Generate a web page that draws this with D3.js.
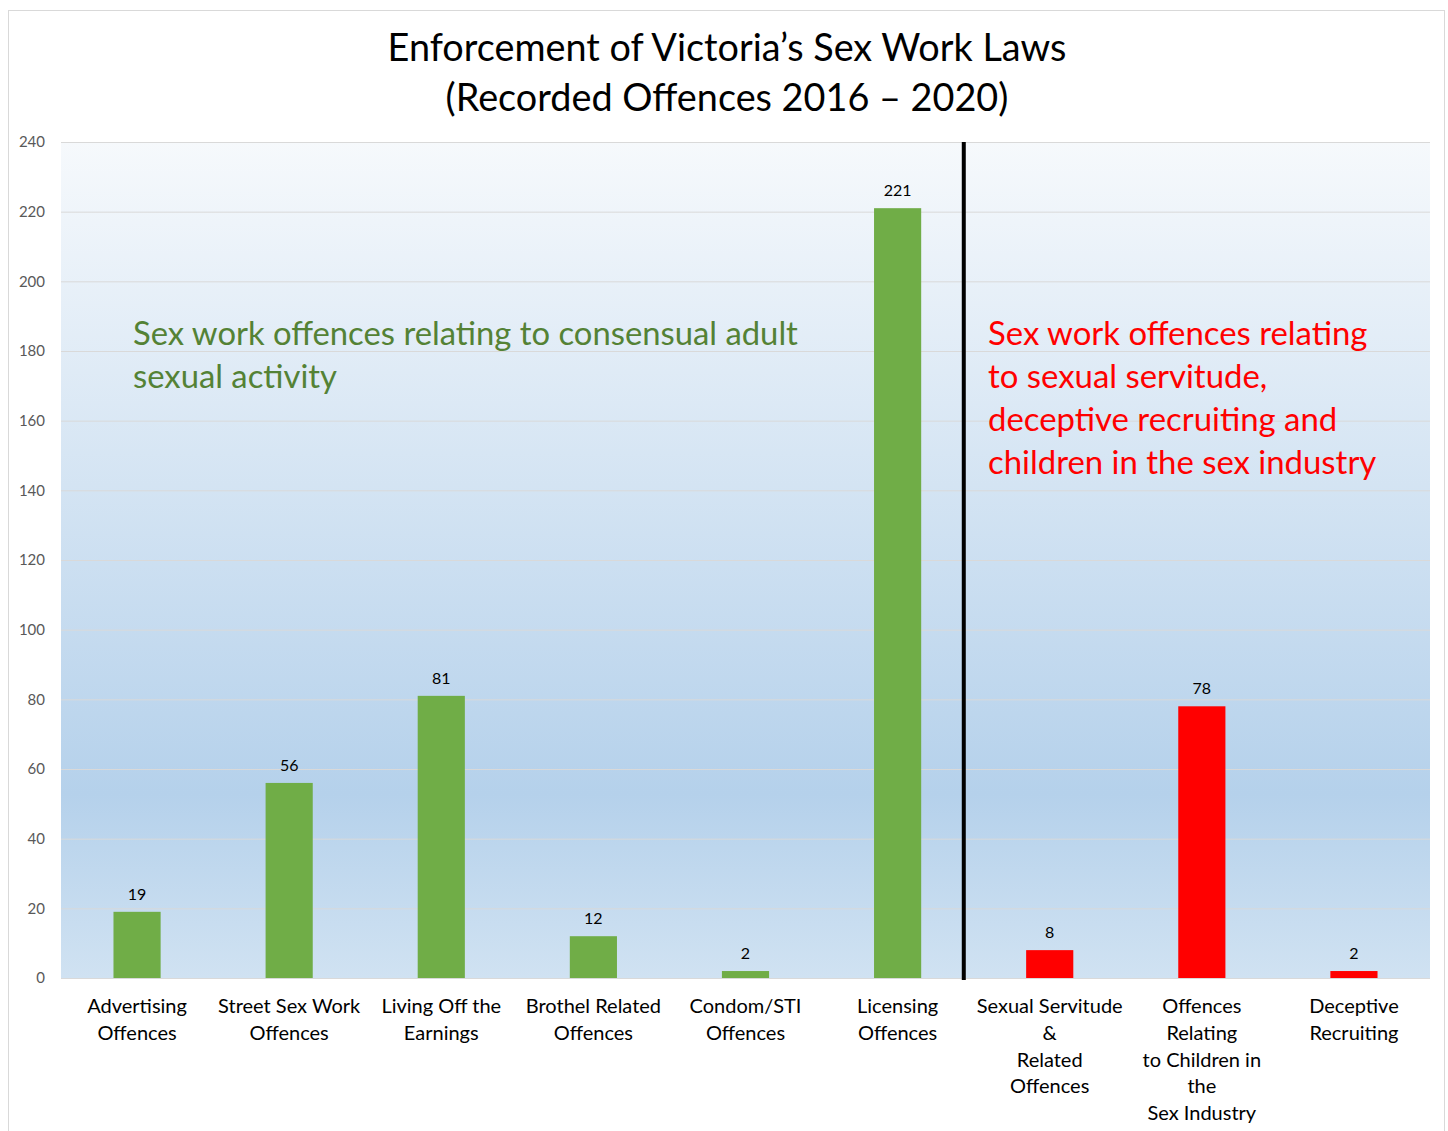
<!DOCTYPE html>
<html>
<head>
<meta charset="utf-8">
<script src="https://cdn.jsdelivr.net/npm/d3@7"></script>
<style>
  body { margin: 0; background: #fff; }
  text { font-family: Lato, "Open Sans", sans-serif; }
</style>
</head>
<body>
<div id="chart"></div>
<script>
// categories and values
const categories = [
    ["Advertising", "Offences"],
    ["Street Sex Work", "Offences"],
    ["Living Off the", "Earnings"],
    ["Brothel Related", "Offences"],
    ["Condom/STI", "Offences"],
    ["Licensing", "Offences"],
    ["Sexual Servitude", "&", "Related", "Offences"],
    ["Offences", "Relating", "to Children in", "the", "Sex Industry"]
    , ["Deceptive", "Recruiting"]
]
const values = [19, 56, 81, 12, 2, 221, 8, 78, 2]
const groups = ["consensual", "consensual", "consensual", "consensual", "consensual", "consensual", "servitude", "servitude", "servitude"]
const yTicks = [0, 20, 40, 60, 80, 100, 120, 140, 160, 180, 200, 220, 240]
const titleLines = ["Enforcement of Victoria\u2019s Sex Work Laws", "(Recorded Offences 2016 \u2013 2020)"]
const greenNote = ["Sex work offences relating to consensual adult", "sexual activity"]
const redNote = ["Sex work offences relating", "to sexual servitude,", "deceptive recruiting and", "children in the sex industry"]

const drawChart = () => {
    var width = 1448,
        height = 1131;
    const margin = ({ top: 142, right: 18, bottom: 153, left: 61 })

    var svg = d3.select("#chart").append("svg")
        .attr("width", width)
        .attr("height", height)

    // outer frame
    svg.append("rect")
        .attr("x", 8.5).attr("y", 10.5)
        .attr("width", 1436).attr("height", 1130)
        .attr("fill", "#fff")
        .attr("stroke", "#d9d9d9")

    const defs = svg.append("defs")
    const grad = defs.append("linearGradient")
        .attr("id", "bg").attr("x1", 0).attr("y1", 0).attr("x2", 0).attr("y2", 1)
    grad.append("stop").attr("offset", "0%").attr("stop-color", "#f6f9fc")
    grad.append("stop").attr("offset", "78%").attr("stop-color", "#b5d1eb")
    grad.append("stop").attr("offset", "100%").attr("stop-color", "#d0e2f2")

    const keys = categories.map(c => c.join(" "))

    const x = d3.scaleBand()
        .domain(keys)
        .range([margin.left, width - margin.right])
        .paddingInner(0.69)
        .paddingOuter(0.345)

    const y = d3.scaleLinear()
        .domain([0, 240])
        .range([height - margin.bottom, margin.top])

    svg.append("rect")
        .attr("x", margin.left)
        .attr("y", y(240))
        .attr("width", width - margin.right - margin.left)
        .attr("height", y(0) - y(240))
        .attr("fill", "url(#bg)")

    // gridlines
    svg.append("g")
        .attr("transform", `translate(${margin.left},0)`)
        .call(d3.axisLeft(y).tickValues(yTicks).tickSize(-(width - margin.right - margin.left)).tickFormat(""))
        .call(g => g.select(".domain").remove())
        .call(g => g.selectAll(".tick line").attr("stroke", "#d9d9d9").attr("stroke-width", 1))

    // y labels
    svg.append("g")
        .attr("transform", `translate(${margin.left - 16},0)`)
        .call(d3.axisLeft(y).tickValues(yTicks).tickSize(0).tickPadding(0))
        .call(g => g.select(".domain").remove())
        .call(g => g.selectAll(".tick text")
            .attr("fill", "#595959")
            .attr("font-size", "15px")
            .style("font-family", "Lato, sans-serif"))

    // bars
    svg.append("g")
        .selectAll("rect")
        .data(values)
        .join("rect")
        .attr("x", (d, i) => x(keys[i]))
        .attr("y", d => y(d))
        .attr("width", x.bandwidth())
        .attr("height", d => y(0) - y(d))
        .attr("fill", (d, i) => groups[i] == "consensual" ? "#70ad47" : "#ff0000")

    // value labels
    svg.append("g")
        .selectAll("text")
        .data(values)
        .join("text")
        .attr("x", (d, i) => x(keys[i]) + x.bandwidth() / 2)
        .attr("y", d => y(d) - 12)
        .attr("text-anchor", "middle")
        .attr("font-size", "16px")
        .attr("fill", "#000")
        .text(d => d)

    // baseline
    svg.append("line")
        .attr("x1", margin.left).attr("x2", width - margin.right)
        .attr("y1", y(0) + 0.5).attr("y2", y(0) + 0.5)
        .attr("stroke", "#d9d9d9")

    // category labels
    const step = x.step()
    svg.append("g")
        .selectAll("text")
        .data(categories)
        .join("text")
        .attr("x", (d, i) => x(keys[i]) + x.bandwidth() / 2)
        .attr("y", y(0) + 35)
        .attr("text-anchor", "middle")
        .attr("font-size", "20px")
        .attr("fill", "#000")
        .selectAll("tspan")
        .data(d => d)
        .join("tspan")
        .attr("x", function () { return d3.select(this.parentNode).attr("x") })
        .attr("dy", (d, i) => i == 0 ? 0 : 26.8)
        .text(d => d)

    // divider between groups
    const divX = x(keys[5]) + x.bandwidth() / 2 + step * 0.435
    svg.append("line")
        .attr("x1", divX).attr("x2", divX)
        .attr("y1", y(240)).attr("y2", y(0) + 2)
        .attr("stroke", "#000")
        .attr("stroke-width", 4)

    // title
    svg.append("text")
        .attr("x", 727)
        .attr("y", 61)
        .attr("text-anchor", "middle")
        .attr("font-size", "37.8px")
        .attr("fill", "#000")
        .selectAll("tspan")
        .data(titleLines)
        .join("tspan")
        .attr("x", 727)
        .attr("dy", (d, i) => i == 0 ? 0 : 50)
        .text(d => d)

    // annotations
    svg.append("text")
        .attr("x", 133)
        .attr("y", 345)
        .attr("font-size", "32.8px")
        .attr("fill", "#548235")
        .selectAll("tspan")
        .data(greenNote)
        .join("tspan")
        .attr("x", 133)
        .attr("dy", (d, i) => i == 0 ? 0 : 43)
        .text(d => d)

    svg.append("text")
        .attr("x", 988)
        .attr("y", 345)
        .attr("font-size", "32.9px")
        .attr("fill", "#ff0000")
        .selectAll("tspan")
        .data(redNote)
        .join("tspan")
        .attr("x", 988)
        .attr("dy", (d, i) => i == 0 ? 0 : 43)
        .text(d => d)
}

drawChart()
</script>
</body>
</html>
